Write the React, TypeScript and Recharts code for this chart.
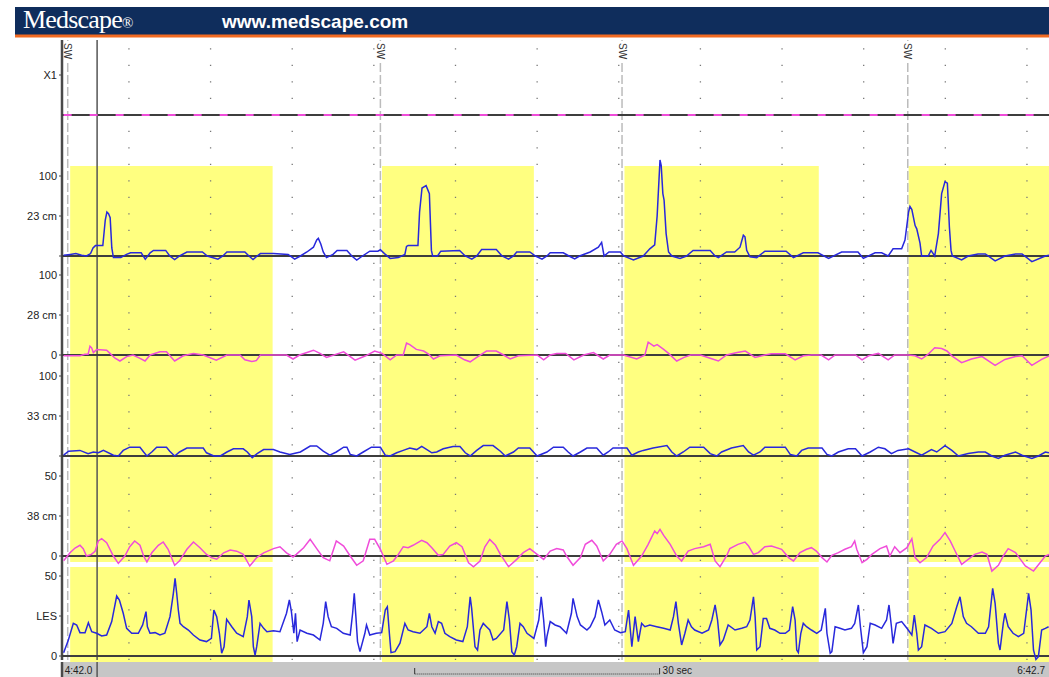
import React from 'react';
import { LineChart, Line, XAxis, YAxis, ReferenceLine, ReferenceArea } from 'recharts';

// time in seconds from 4:42.0, pressures in mmHg
const START_SEC = 282;
const T_MIN = -0.2;
const T_END = 120.7;

const swallowTimes = [0.5, 38.8, 68.4, 103.4];
const yellowBands = [[0.8, 25.6], [39.0, 57.6], [68.7, 92.5], [103.5, 120.7]];
const gridTimes = [8, 18, 28, 38, 48, 58, 68, 78, 88, 98, 108, 118];
const cursorTime = 4.1;
const scaleBar = { from: 43, length: 30 };

const x1Trace = [[0, 0], [120.7, 0]];

const cm23 = [
  [0, 1], [0.8, 2], [1.5, 3], [2.2, 1], [2.8, 0], [3.3, 3], [3.6, 10], [3.9, 13], [4.8, 13], [5.1, 45], [5.3, 55], [5.5, 53], [5.7, 48], [5.9, 10], [6.1, -2], [7.0, -2], [7.7, 2], [8.2, 4], [9.5, 4], [10.0, -4], [10.6, 4], [11.0, 7], [12.5, 7], [13.0, 0], [13.6, -4.5], [14.2, 0], [15.1, 5], [17.0, 5], [17.6, 0], [18.9, -4], [19.5, 0], [20.0, 5], [22.2, 5], [22.7, 0], [23.2, -4.5], [23.7, 0], [24.1, 3], [25.7, 3], [27.5, 2], [28.3, -4], [29.0, 0], [29.8, 5], [30.6, 11], [31.0, 20], [31.2, 22], [31.5, 15], [31.8, 5], [32.2, -2], [33.0, 2], [33.5, 7], [34.7, 7], [35.3, 0], [35.9, -5], [36.6, 0], [37.5, 6], [38.5, 6], [38.8, 8], [39.3, 3], [40.0, -3],
  [41.0, -2], [41.8, 2], [42.0, 12], [42.2, 13], [43.4, 13], [43.6, 55], [43.9, 85], [44.4, 88], [44.8, 78], [45.05, 7], [45.2, 0], [45.8, 0], [46.2, 6], [48.5, 7], [49.2, 0], [50.0, -4], [50.6, 0], [51.2, 8], [53.0, 8], [53.7, 0], [54.5, -4], [55.1, 0], [55.5, 5], [57.1, 5], [57.8, 0], [58.6, -4], [59.2, 0], [59.6, 4], [61.2, 4], [61.9, 0], [62.6, -3.5], [63.2, 0], [64.5, 5], [65.5, 11], [65.9, 17], [66.2, 0], [66.8, 5], [68.2, 5], [68.6, 0], [69.8, -5], [71.0, 0], [71.8, 9], [72.4, 14], [72.7, 50], [73.05, 120], [73.2, 113], [73.4, 78], [73.55, 70], [73.8, 28], [74.1, 5], [74.5, 0], [75.5, -3], [76.3, 0], [77.1, 7], [79.2, 7], [79.8, 0], [80.2, -2], [81.2, 5],
  [82.2, 5], [82.85, 11], [83.26, 26], [83.46, 24], [83.67, 7], [84.07, -1], [84.9, -2], [85.9, 6], [88.5, 6], [89.4, -2], [90.6, 4], [92.4, 4], [93.7, -3], [95.3, 5], [97.3, 5], [97.96, -3], [99.4, 4], [100.2, 4], [101.0, 0], [101.6, 9], [102.65, 9], [103.06, 20], [103.5, 55], [103.67, 62], [103.9, 58], [104.3, 38], [104.5, 34], [104.9, 16], [105.1, 0], [105.9, 0], [106.25, 7], [106.7, 0], [107.15, 28], [107.55, 78], [107.96, 93], [108.25, 91], [108.37, 65], [108.5, 36], [108.7, 7], [108.86, 0], [110.0, -5], [110.8, 0], [112.0, 2.5], [112.9, 2.5], [114.1, -6], [115.3, 0], [116.6, 2.5], [117.4, 2.5], [118.6, -7], [120.25, 0], [120.7, 1],
];

const cm28 = [
  [0, -1], [2.0, -1], [2.6, 1], [3.0, 1], [3.23, 11], [3.43, 9], [3.64, 3], [4.05, 7], [5.27, 6], [5.68, 2], [6.3, -4], [6.9, -7.5], [7.72, -2], [8.5, 0], [9.3, -4], [9.97, -7.5], [10.6, 0], [11.8, 4], [12.6, 4], [13.1, -2], [13.6, -7.5], [14.65, -1], [15.9, 2], [17.1, 0], [18.7, -6.5], [20.0, 0], [21.6, 0], [22.2, -6], [23.05, -8], [23.6, -7], [24.1, 0], [27.3, 0], [28.1, -5], [28.9, 0], [30.6, 6], [31.4, 2], [32.2, -3], [34.3, 4], [35.7, -6.5], [37.0, -1], [38.1, 5], [39.0, 2], [40.0, -6],
  [40.8, 0], [41.6, 0], [42.0, 15], [42.4, 13], [43.2, 7], [44.1, 5], [44.7, 1], [45.3, -5], [46.1, -1], [48.1, 0], [49.1, -6], [49.8, -8.5], [50.6, -3], [51.8, 5], [53.0, 5], [53.9, 0], [54.7, -5], [55.7, -1], [58.0, 0], [58.8, -6], [59.6, 0], [60.4, 2], [61.5, 2], [62.5, -6], [63.7, 0], [64.9, 3], [66.1, -5], [66.9, 0], [68.6, 0], [70.2, -5], [71.2, 0], [71.6, 16], [72.3, 11], [72.7, 13], [73.5, 7], [74.1, 2], [75.1, -7.5], [76.0, -3], [76.8, 0], [78.0, 0], [79.2, -4], [80.2, -7.5], [81.2, 0],
  [82.5, 3], [83.5, 5], [84.7, -3], [85.9, 0], [86.7, 1.5], [88.4, 1.5], [89.6, -6], [90.6, -1], [91.6, 0], [92.8, 0], [93.7, -6], [94.5, 0], [97.0, 0], [97.8, -6], [98.6, -1], [99.8, 2], [101.0, -6], [101.8, 0], [103.5, 0], [104.3, -1], [105.1, -5], [105.9, 1], [106.7, 9], [107.55, 8], [108.2, 5], [108.8, -1], [110.0, -9.5], [111.2, -5], [112.5, -2], [114.1, -13], [115.3, -5.5], [116.6, -2], [117.4, -1], [118.6, -13], [119.8, -5.5], [120.7, -1],
];

const cm33 = [
  [0, 1], [0.6, 6], [2.0, 7], [3.0, 3], [3.64, 5], [4.25, 4], [4.87, 7], [6.1, 1], [6.7, 0], [7.3, 7], [8.1, 11], [9.35, 11], [9.8, 5], [10.2, 0], [10.8, 5], [11.4, 11], [12.6, 11], [13.0, 6], [13.6, 0], [14.2, 5], [15.1, 10], [17.1, 10], [17.5, 4], [18.4, 0], [19.2, 0], [20.0, 5], [20.8, 9], [22.0, 9], [22.5, 5], [23.1, -2], [23.7, 3], [24.5, 8], [25.7, 8], [26.5, 5], [27.7, 2], [29.0, 5], [30.2, 12.5], [31.0, 12.5], [31.8, 6], [32.6, 1], [33.4, 5], [34.3, 11], [34.7, 11], [35.1, 2], [35.9, 0], [36.7, 5], [37.7, 11], [38.8, 11], [39.4, 1], [40.0, 0],
  [40.8, 4], [41.6, 7], [42.4, 10], [43.25, 8], [43.86, 12], [44.5, 8], [45.1, 4], [45.7, 5], [46.5, 9], [47.7, 12], [48.55, 12], [49.2, 4], [49.8, 0], [50.6, 7], [51.4, 13], [52.6, 13], [53.5, 6], [54.1, 0], [55.1, 5], [55.7, 10], [57.1, 10], [58.0, 0], [59.2, 5], [60.0, 11], [61.2, 11], [61.8, 5], [62.4, 0], [63.3, 5], [64.1, 10], [65.3, 10], [66.1, 1], [66.7, 5], [67.3, 10], [69.0, 10], [69.6, 1], [70.4, 5], [71.0, 7], [72.2, 10], [73.9, 13], [74.5, 5], [75.1, 0], [75.9, 5], [76.7, 11], [78.4, 11], [79.2, 3],
  [80.0, 0], [80.6, 5], [81.8, 10], [83.25, 13], [83.9, 5], [84.5, 1], [85.3, 5], [85.9, 11], [88.4, 11], [89.0, 2], [89.8, 0], [90.4, 7], [91.2, 10], [92.9, 10], [93.5, 2], [94.1, 0], [94.9, 5], [96.1, 9], [97.0, 9], [97.8, 0], [98.8, 5], [99.8, 11], [100.6, 9], [101.4, 3], [102.2, 7], [103.5, 9], [104.3, 5], [105.1, 1], [106.3, 8], [106.95, 5], [107.96, 13], [108.8, 7], [109.6, 0], [110.8, 3], [112.05, 5], [112.9, 5], [113.7, 0], [114.5, -3], [115.3, 1], [116.6, 5], [117.4, 1], [118.6, -3], [119.4, 0], [120.25, 5], [120.7, 4],
];

const cm38 = [
  [0, -3], [0.78, 2], [1.4, 5], [2.0, 6.7], [2.4, 4.6], [2.8, 0], [3.4, 1], [3.85, 3], [4.25, 9.4], [4.66, 10.8], [5.27, 8.3], [6.09, 0], [6.7, -4.6], [7.5, 0], [8.1, 5.8], [8.7, 9.4], [9.35, 6.7], [9.8, 0], [10.2, -3.75], [10.8, 2], [11.6, 6.7], [12.2, 8.75], [12.8, 4.2], [13.6, -5.8], [14.2, -3], [15.1, 4.2], [15.9, 8.75], [16.7, 5.2], [17.5, 1], [18.1, -1], [18.75, -2], [19.6, 2], [20.4, 3.75], [21.2, 3], [22.0, 1], [22.8, -6.25], [23.65, -1], [24.5, 2], [25.7, 4.6], [26.5, 5.8], [27.3, 2], [28.1, -0.6], [28.5, 1], [29.4, 5.2], [30.2, 10.4], [31.0, 4.6], [31.8, -1], [32.6, -3], [33.4, 9.4], [34.3, 6.2], [35.1, 0], [35.9, -5.8], [36.7, -3], [37.5, 10.4], [38.1, 10.4], [38.8, 4.2], [39.6, -5.2], [40.4, -3],
  [41.0, 1], [41.6, 5.8], [42.2, 5.2], [42.8, 6.7], [43.86, 9.8], [44.5, 8.3], [45.1, 5.2], [45.9, 0.4], [46.5, 1], [47.3, 6.25], [48.1, 8.3], [48.8, 5.8], [49.6, -4.2], [50.2, -6.7], [51.0, -3.1], [51.6, 5.8], [52.2, 10.4], [52.9, 6.7], [53.5, 1], [54.5, -6.7], [55.5, -2.1], [56.3, 2.1], [57.1, 4.6], [58.0, 1], [58.8, -2.1], [59.6, 3.1], [60.4, 4.6], [61.2, 3.75], [61.6, 0], [62.4, -5.8], [63.3, -1], [63.9, 7.3], [64.7, 9.8], [65.3, 6.25], [66.1, -3.1], [66.9, 1], [67.7, 7.3], [68.4, 9.4], [69.0, 4.6], [69.8, -5.8], [70.8, 0], [71.6, 7.3], [72.4, 15.6], [72.7, 14], [73.05, 16.7], [73.5, 12.9], [74.3, 7.3], [75.1, 0], [75.7, -3.1], [76.5, 3.1], [77.3, 4.6], [78.4, 5.8], [79.2, 7.3], [79.8, -3.1], [80.4, -6.7], [81.2, 0], [81.6, 4.6],
  [82.6, 7.3], [83.46, 8.75], [83.9, 6.25], [84.5, 1], [85.1, 2.1], [85.9, 5.8], [86.7, 6.25], [87.95, 4.2], [88.8, -1], [89.4, -3.1], [90.2, 2.1], [91.0, 4.2], [91.6, 5.2], [92.2, 3.1], [92.9, -1], [93.5, -3.75], [94.1, 0.4], [94.9, 2.1], [95.7, 4.2], [96.5, 5.8], [96.9, 9.4], [97.15, 4.2], [97.8, -4.2], [98.4, -2.1], [99.0, 1], [100.0, 4.6], [100.8, 6.25], [101.2, 0], [101.8, 5.8], [102.45, 2.1], [103.3, 5.2], [103.9, 10.8], [104.3, -1], [104.9, -4.2], [105.7, -1], [106.5, 6.25], [107.35, 10.4], [107.96, 14.6], [108.6, 9.4], [109.2, 3.1], [110.0, -5.2], [110.8, -2.1], [111.6, 1], [112.5, 2.5], [113.1, 1], [113.7, -9.4], [114.5, -5.8], [115.1, 0], [115.7, 4.6], [116.6, 2.1], [117.2, -2.1], [117.8, -6.25], [118.8, -9.4], [119.6, -4.2], [120.25, 0], [120.7, 1],
];

const les = [
  [0, 2], [0.58, 10], [1.19, 20.4], [1.6, 19.4], [2.0, 14.6], [2.62, 14.6], [3.03, 20.8], [3.44, 15.2], [4.05, 14.2], [4.66, 12.5], [5.27, 13.1], [5.89, 21.5], [6.5, 37.5], [6.83, 35], [7.3, 26.7], [7.72, 17.3], [8.34, 14.2], [9.15, 14.2], [9.68, 19.4], [10.09, 27.7], [10.26, 18.3], [10.58, 14.2], [11.2, 14.6], [11.8, 13.1], [12.4, 14.2], [13.03, 24.6], [13.44, 39.2], [13.65, 48.5], [13.85, 39.2], [14.05, 28.75], [14.26, 20.4], [14.67, 18.3], [15.28, 16.25], [15.89, 13.1], [16.7, 10], [17.5, 9], [18.1, 11], [18.4, 28.75], [18.75, 24.6], [19.08, 14.2], [19.36, 1.7], [19.65, 5.8], [19.97, 22.9], [20.6, 18.3], [21.2, 14.2], [22.0, 12.1], [22.5, 24.6], [22.7, 35], [23.04, 24.6], [23.24, 5.8], [23.45, 0.6], [23.65, 5.8], [24.06, 20.4], [24.5, 17.3], [24.9, 15.2], [25.7, 15.8], [26.5, 15.2], [27.3, 26.7], [27.65, 35], [27.9, 27.7], [28.2, 14.2], [28.4, 26.7], [28.6, 9], [28.96, 16.25], [29.8, 14.2], [30.6, 13.1], [31.4, 10], [31.8, 20.4], [32.1, 34], [32.4, 24.6], [32.8, 18.3], [33.45, 17.3], [34.26, 14.2], [35.1, 13.1], [35.4, 26.7], [35.6, 39.2], [35.8, 24.6], [36.0, 9], [36.3, 2.7], [36.9, 14.2], [37.1, 19.4], [37.5, 13.1], [38.3, 14.2], [38.96, 14.6], [39.4, 28.75], [39.65, 30.8], [39.9, 14.2], [40.1, 2.1], [40.6, 2.7], [41.2, 8],
  [41.8, 20.4], [42.2, 16.25], [42.8, 15.2], [43.65, 14.2], [44.5, 18.3], [44.8, 26.7], [45.1, 18.3], [45.5, 14.2], [45.9, 21.5], [46.3, 20.4], [46.7, 14.2], [47.3, 12.1], [48.1, 10], [48.9, 9], [49.45, 18.3], [49.8, 37], [49.98, 29.8], [50.39, 5.8], [50.7, 3.75], [51.0, 16.25], [51.4, 20.4], [51.8, 18.3], [52.2, 16.25], [52.6, 10], [53.0, 11], [53.9, 16.25], [54.3, 34], [54.6, 22.5], [54.9, 2.7], [55.2, 0.6], [55.5, 5.8], [55.9, 20.4], [56.3, 18.3], [56.76, 14.2], [57.6, 11], [58.2, 22.5], [58.5, 37], [58.8, 22.5], [59.05, 5.8], [59.2, 12.1], [59.6, 21.5], [60.2, 19.4], [60.8, 18.3], [61.6, 14.2], [62.2, 26.7], [62.4, 36], [62.9, 24.6], [63.3, 19.4], [64.1, 16.25], [64.5, 18.3], [65.1, 24.6], [65.5, 35], [65.9, 27.7], [66.3, 19.4], [66.9, 22.5], [67.5, 16.25], [68.2, 14.6], [68.8, 15.2], [69.2, 28.75], [69.6, 5.8], [70.0, 24.6], [70.4, 9], [70.8, 20.4], [71.2, 18.3], [71.8, 19.4], [72.65, 18.3], [73.5, 17.3], [74.3, 16.25], [74.7, 24.6], [75.0, 34], [75.3, 20.4], [75.7, 6.9], [76.1, 14.2], [76.5, 22.5], [76.9, 18.3], [77.3, 16.25], [78.2, 14.2], [79.0, 16.25], [79.4, 22.5], [79.8, 31.9], [80.1, 22.5], [80.4, 6.9], [80.8, 10], [81.4, 19.4],
  [82.24, 16.25], [83.06, 17.3], [83.67, 18.3], [84.07, 22.5], [84.5, 37], [84.7, 24.6], [84.9, 3.75], [85.3, 5.8], [85.7, 23.5], [86.1, 23.5], [86.5, 17.3], [87.1, 16.25], [87.75, 14.2], [88.4, 14.2], [88.9, 16.25], [89.3, 30.8], [89.6, 22.5], [89.8, 3.75], [90.0, 2.1], [90.3, 14.2], [90.6, 20.4], [91.0, 18.3], [91.6, 16.25], [92.25, 14.2], [92.8, 16.25], [93.3, 29.8], [93.5, 14.2], [93.9, 1.7], [94.1, 2.7], [94.5, 18.3], [95.1, 17.3], [95.7, 16.25], [96.5, 17.3], [96.9, 20.4], [97.35, 31.9], [97.6, 18.3], [97.96, 2.1], [98.4, 5.8], [98.8, 20.4], [99.4, 19.4], [100.2, 17.3], [100.8, 22.5], [101.1, 31.9], [101.4, 18.3], [101.6, 7.9], [102.0, 20.4], [102.65, 21.5], [103.3, 17.3], [103.9, 13.1], [104.2, 25.6], [104.5, 14.2], [104.7, 3.75], [105.1, 5.8], [105.5, 19.4], [106.3, 17.3], [107.15, 14.2], [107.96, 15.2], [108.8, 20.4], [109.4, 30.8], [109.8, 37], [110.2, 24.6], [110.6, 20.4], [111.2, 18.3], [112.05, 14.2], [112.9, 14.2], [113.3, 18.3], [113.8, 42.3], [114.1, 32.9], [114.5, 7.9], [114.7, 3.75], [115.1, 20.4], [115.3, 26.7], [115.7, 18.3], [116.3, 14.2], [116.95, 12.1], [117.6, 14.2], [118.0, 30.8], [118.2, 39.2], [118.5, 28.75], [118.8, 3.75], [119.1, -2.1], [119.4, -0.4], [119.8, 16.25], [120.25, 17.3], [120.65, 18.3],
];

const W = 1049;
const FONT = '"Liberation Sans", Arial, sans-serif';
const BLUE = '#2828dc';
const PINK = '#f04cda';
const zero = { top: 0, right: 0, bottom: 0, left: 0 };
// invisible series spanning the time range so that the overlay charts get a domain
const spanRows = [{ t: T_MIN, v: 0 }, { t: T_END, v: 1 }];

// layout of the stacked channels (pixels) - 0 of each channel sits on its baseline
const channels = [
  { name: 'X1', trace: x1Trace, color: PINK, dash: '8 18', top: 40, height: 90, domain: [-18.75, 93.75], ticks: [50], tickText: ['X1'] },
  { name: '23 cm', trace: cm23, color: BLUE, top: 150, height: 120, domain: [-17.5, 132.5], ticks: [0, 50, 100], tickText: ['', '23 cm', '100'] },
  { name: '28 cm', trace: cm28, color: PINK, top: 262, height: 108, domain: [-18.75, 116.25], ticks: [0, 50, 100], tickText: ['0', '28 cm', '100'] },
  { name: '33 cm', trace: cm33, color: BLUE, top: 360, height: 110, domain: [-17.5, 120], ticks: [0, 50, 100], tickText: ['', '33 cm', '100'] },
  { name: '38 cm', trace: cm38, color: PINK, top: 462, height: 113, domain: [-11.875, 58.75], ticks: [0, 25, 50], tickText: ['0', '38 cm', '50'] },
  { name: 'LES', trace: les, color: BLUE, top: 562, height: 100, domain: [-3.75, 58.75], ticks: [0, 25, 50], tickText: ['0', 'LES', '50'] },
];

const fmtTime = (t: number) => {
  const s = START_SEC + t;
  const m = Math.floor(s / 60);
  const sec = (s - m * 60).toFixed(1).padStart(4, '0');
  return `${m}:${sec}`;
};

const SwLabel = (props: any) => {
  const vb = props.viewBox || props;
  const x = vb.x;
  const y = vb.y;
  return (
    <g>
      <rect x={x - 5} y={y + 1} width={10} height={21} fill="#fff" />
      <text transform={`translate(${x - 3.5},${y + 3}) rotate(90)`} fontSize={10} fill="#333" fontFamily={FONT}>
        SW
      </text>
    </g>
  );
};

const barLabel = (text: string, anchor: 'start' | 'end', dx: number) => (props: any) => {
  const vb = props.viewBox || props;
  return (
    <text x={vb.x + dx} y={vb.y + vb.height / 2 + 4} textAnchor={anchor} fontSize={10} fill="#222" fontFamily={FONT}>
      {text}
    </text>
  );
};

const Spacer = () => (
  <Line data={spanRows} dataKey="v" stroke="none" dot={false} activeDot={false} isAnimationActive={false} />
);

const Bands = ({ top, height }: { top: number; height: number }) => (
  <div style={{ position: 'absolute', left: 0, top }}>
    <LineChart width={W} height={height} margin={{ ...zero, left: 62 }}>
      <XAxis type="number" dataKey="t" domain={[T_MIN, T_END]} allowDataOverflow hide />
      <YAxis hide domain={[0, 1]} />
      {yellowBands.map(([a, b]) => (
        <ReferenceArea key={a} x1={a} x2={b} fill="#ffff80" fillOpacity={1} stroke="none" />
      ))}
      {Spacer()}
    </LineChart>
  </div>
);

const Channel = ({ ch }: { ch: any }) => {
  const rows = ch.trace.map(([t, v]: number[]) => ({ t, v }));
  return (
    <div style={{ position: 'absolute', left: 0, top: ch.top }}>
      <LineChart width={W} height={ch.height} margin={zero}>
        <XAxis type="number" dataKey="t" domain={[T_MIN, T_END]} allowDataOverflow hide />
        <YAxis
          type="number"
          domain={ch.domain}
          allowDataOverflow
          ticks={ch.ticks}
          interval={0}
          width={62}
          axisLine={false}
          tickSize={3}
          tickMargin={2}
          tickLine={{ stroke: '#444' }}
          tick={{ fontSize: 11, fill: '#222', fontFamily: FONT }}
          tickFormatter={(v: number) => ch.tickText[ch.ticks.indexOf(v)] ?? ''}
        />
        <ReferenceLine y={0} stroke="#3d3d3d" strokeWidth={1.8} />
        <Line
          data={rows}
          dataKey="v"
          type="linear"
          stroke={ch.color}
          strokeWidth={ch.dash ? 2 : 1.5}
          strokeDasharray={ch.dash}
          dot={false}
          activeDot={false}
          isAnimationActive={false}
        />
      </LineChart>
    </div>
  );
};

export default function App() {
  const barEnd = scaleBar.from + scaleBar.length;
  return (
    <div style={{ position: 'absolute', left: 0, top: 0, width: W, height: 677, background: '#fff', overflow: 'hidden' }}>
      <Bands top={166} height={396} />
      <Bands top={567} height={95} />

      {/* time bar */}
      <div style={{ position: 'absolute', left: 0, top: 662 }}>
        <LineChart width={W} height={15} margin={zero}>
          <XAxis type="number" dataKey="t" domain={[T_MIN, T_END]} allowDataOverflow hide />
          <YAxis domain={[0, 1]} allowDataOverflow tick={false} tickLine={false} width={62} axisLine={{ stroke: '#4a4a4a', strokeWidth: 2.5 }} />
          <ReferenceArea x1={T_MIN} x2={T_END} fill="#c6c6c6" fillOpacity={1} stroke="none" />
          <ReferenceLine x={cursorTime} stroke="#555" strokeWidth={1.5} />
          <ReferenceLine x={0} stroke="none" label={barLabel(fmtTime(0), 'start', 1)} />
          <ReferenceLine x={T_END} stroke="none" label={barLabel(fmtTime(T_END), 'end', -4)} />
          <ReferenceLine segment={[{ x: scaleBar.from, y: 0.2 }, { x: barEnd, y: 0.2 }]} stroke="#333" strokeDasharray="1 1" />
          <ReferenceLine segment={[{ x: scaleBar.from, y: 0.2 }, { x: scaleBar.from, y: 0.6 }]} stroke="#333" />
          <ReferenceLine segment={[{ x: barEnd, y: 0.2 }, { x: barEnd, y: 0.6 }]} stroke="#333" />
          <ReferenceLine x={barEnd} stroke="none" label={barLabel(`${scaleBar.length} sec`, 'start', 3)} />
          {Spacer()}
        </LineChart>
      </div>

      {/* frame: left axis, time grid, swallow markers, cursor */}
      <div style={{ position: 'absolute', left: 0, top: 40 }}>
        <LineChart width={W} height={620} margin={zero}>
          <XAxis type="number" dataKey="t" domain={[T_MIN, T_END]} allowDataOverflow hide />
          <YAxis domain={[0, 1]} allowDataOverflow tick={false} tickLine={false} width={62} axisLine={{ stroke: '#4a4a4a', strokeWidth: 2.5 }} />
          {gridTimes.map((t) => (
            <ReferenceLine key={t} x={t} stroke="#777" strokeWidth={1.3} strokeDasharray="1.3 15.2" />
          ))}
          {swallowTimes.map((t) => (
            <ReferenceLine key={`sw${t}`} x={t} stroke="#bcbcbc" strokeWidth={1.5} strokeDasharray="9 3" label={SwLabel} />
          ))}
          <ReferenceLine x={cursorTime} stroke="#555" strokeWidth={1.5} />
          {Spacer()}
        </LineChart>
      </div>

      {channels.map((ch) => (
        <Channel key={ch.name} ch={ch} />
      ))}

      <svg width={W} height={40} style={{ position: 'absolute', left: 0, top: 0 }}>
        <rect x={15} y={7} width={W - 15} height={28} fill="#0f2d5c" />
        <rect x={15} y={34.5} width={W - 15} height={3} fill="#f26a21" />
        <text x={23} y={28} fill="#fff" fontFamily='"Liberation Serif", "Times New Roman", serif' fontSize={26} letterSpacing={-0.8}>
          Medscape<tspan fontSize={15}>®</tspan>
        </text>
        <text x={222} y={28} fill="#fff" fontFamily={FONT} fontWeight="bold" fontSize={19}>
          www.medscape.com
        </text>
      </svg>
    </div>
  );
}
